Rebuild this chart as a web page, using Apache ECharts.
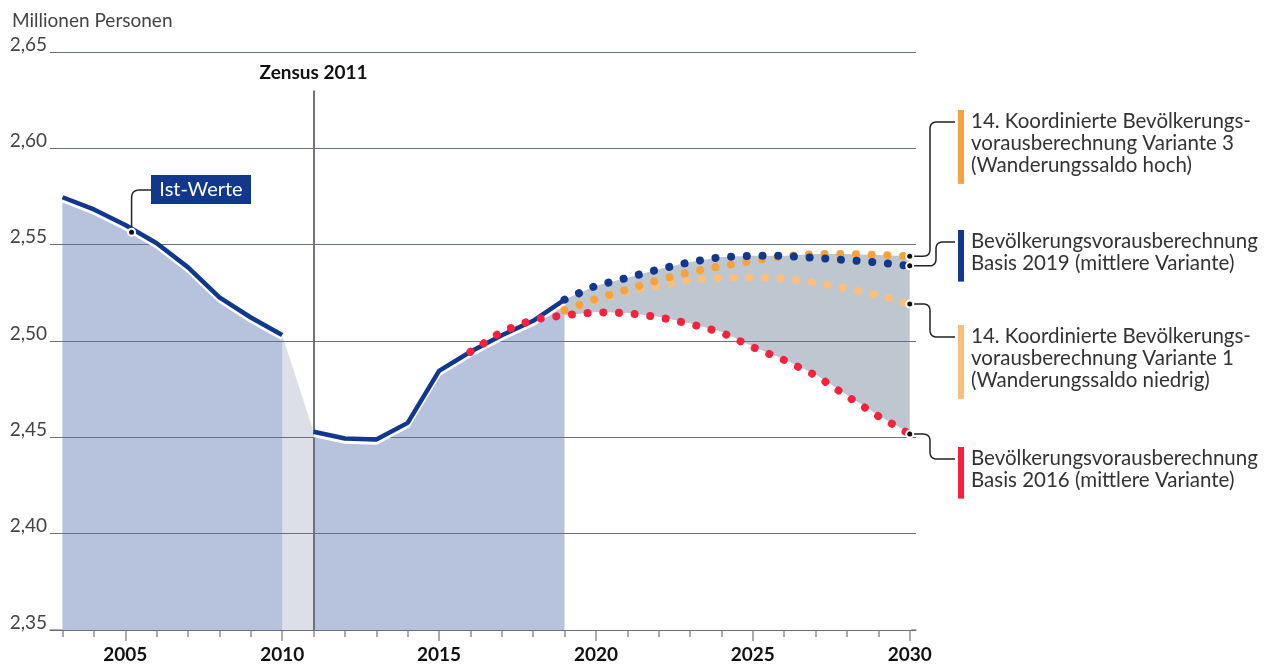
<!DOCTYPE html>
<html>
<head>
<meta charset="utf-8">
<script src="https://cdn.jsdelivr.net/npm/echarts@6/dist/echarts.min.js"></script>
<style>
html, body { margin: 0; padding: 0; background: #fff; }
#chart { width: 1282px; height: 666px; }
</style>
</head>
<body>
<div id="chart"></div>
<script>
// Schrift und Farben
var FONT = 'Lato, sans-serif';
var NAVY = '#11388c';
var ORANGE = '#f7a23b';
var LIGHT_ORANGE = '#fcbf7b';
var RED = '#f5223f';

// Ist-Werte (Mio. Personen)
var istYears = [2003, 2004, 2005, 2006, 2007, 2008, 2009, 2010, 2011, 2012, 2013, 2014, 2015, 2016, 2017, 2018, 2019];
var istValues = [2.5746, 2.5683, 2.5602, 2.5507, 2.5382, 2.5226, 2.5122, 2.5031, 2.4529, 2.4494, 2.4489, 2.4575, 2.4845, 2.4944, 2.5030, 2.5105, 2.5215];

// Vorausberechnungen
var projYears = [2019, 2020, 2021, 2022, 2023, 2024, 2025, 2026, 2027, 2028, 2029, 2030];
var basis2019 = [2.5215, 2.5287, 2.5328, 2.5372, 2.5410, 2.5436, 2.5442, 2.5442, 2.5432, 2.5420, 2.5408, 2.5390];
var variante3 = [2.5160, 2.5218, 2.5268, 2.5316, 2.5358, 2.5389, 2.5416, 2.5441, 2.5451, 2.5451, 2.5447, 2.5440];
var variante1 = [2.5160, 2.5212, 2.5258, 2.5287, 2.5318, 2.5328, 2.5330, 2.5325, 2.5302, 2.5273, 2.5237, 2.5192];
var b2016Years = [2016, 2017, 2018, 2019, 2020, 2021, 2022, 2023, 2024, 2025, 2026, 2027, 2028, 2029, 2030];
var basis2016 = [2.4944, 2.5049, 2.5111, 2.5134, 2.5149, 2.5145, 2.5124, 2.5089, 2.5045, 2.4968, 2.4901, 2.4822, 2.4714, 2.4610, 2.4517];

// Achsen
var yearTicks = [2003, 2004, 2005, 2006, 2007, 2008, 2009, 2010, 2011, 2012, 2013, 2014, 2015, 2016, 2017, 2018, 2019, 2020, 2021, 2022, 2023, 2024, 2025, 2026, 2027, 2028, 2029, 2030];
var yearLabels = [2005, 2010, 2015, 2020, 2025, 2030];

function pairs(xs, ys) {
    return xs.map(function (x, i) { return [x, ys[i]]; });
}

var istAll = pairs(istYears, istValues);
var istPart1 = istAll.filter(function (p) { return p[0] <= 2010; });
var istPart2 = istAll.filter(function (p) { return p[0] >= 2011; });

// Band zwischen Basis 2016 und der oberen Vorausberechnung
var bandLow = projYears.map(function (y) { return basis2016[b2016Years.indexOf(y)]; });
var bandHigh = projYears.map(function (y, i) { return Math.max(basis2019[i], variante3[i]); });

function dots(color) {
    return { color: color, width: 8, type: [0.01, 15.7], cap: 'round' };
}

function areaSeries(data, color, z) {
    return {
        type: 'line', data: data, symbol: 'none', z: z || 1, silent: true,
        lineStyle: { width: 0, opacity: 0 },
        areaStyle: { color: color, opacity: 1, origin: 'start' }
    };
}

var chart = echarts.init(document.getElementById('chart'));

var option = {
    animation: false,
    title: {
        text: 'Millionen Personen', left: 7, top: 6,
        textStyle: { fontFamily: FONT, fontSize: 19, fontWeight: 'normal', color: '#444' }
    },
    grid: { left: 50, right: 366, top: 52, bottom: 36 },
    xAxis: [{
        type: 'value', min: 2002.6, max: 2030.2, position: 'bottom',
        axisLine: { show: true, lineStyle: { color: '#8d919c', width: 1.5 } },
        axisTick: { show: true, customValues: yearTicks, length: 7, lineStyle: { color: '#8d919c', width: 1.5 } },
        axisLabel: { show: false },
        splitLine: { show: false }
    }, {
        type: 'value', min: 2002.6, max: 2030.2, position: 'bottom', offset: 0,
        axisLine: { show: false },
        axisTick: { show: true, customValues: yearLabels, length: 11, lineStyle: { color: '#8d919c', width: 1.5 } },
        axisLabel: {
            customValues: yearLabels, margin: 15,
            fontFamily: FONT, fontSize: 19, fontWeight: 'bold', color: '#111',
            formatter: function (v) { return String(v); }
        },
        splitLine: { show: false }
    }],
    yAxis: {
        type: 'value', min: 2.35, max: 2.65, interval: 0.05, z: 3,
        axisLine: { show: false },
        axisTick: { show: false },
        axisLabel: {
            margin: 3, verticalAlign: 'bottom', padding: [0, 0, -2, 0],
            fontFamily: FONT, fontSize: 19, color: '#444',
            formatter: function (v) { return v.toFixed(2).replace('.', ','); }
        },
        splitLine: { lineStyle: { color: '#6b7080', width: 1 } }
    },
    series: [
        // Übergang 2010-2011 (Zensus)
        Object.assign(areaSeries(istAll, '#dcdfe7'), {
            markLine: {
                silent: true, symbol: 'none', z: 4,
                lineStyle: { color: '#6e7280', width: 2, type: 'solid' },
                label: {
                    show: true, position: 'end', distance: 8, formatter: 'Zensus 2011',
                    fontFamily: FONT, fontSize: 19, fontWeight: 'bold', color: '#111'
                },
                data: [[{ coord: [2011, 2.35] }, { coord: [2011, 2.63] }]]
            }
        }),
        areaSeries(istPart1, '#b7c3dc'),
        areaSeries(istPart2, '#b7c3dc'),
        // Band der Vorausberechnungen: obere Hülle grau, darunter weiß abgedeckt
        areaSeries(pairs(projYears, bandHigh), '#bec6d0', 1),
        {
            type: 'line', data: pairs(projYears, bandLow), symbol: 'none', z: 1, silent: true,
            lineStyle: { width: 0, opacity: 0 },
            areaStyle: { color: '#ffffff', opacity: 1, origin: 'start', shadowColor: '#ffffff', shadowBlur: 0, shadowOffsetX: 1.5 }
        },
        // Ist-Werte Linie
        {
            type: 'line', data: istPart1, symbol: 'none', z: 5,
            lineStyle: { color: NAVY, width: 4.5, shadowColor: '#fff', shadowOffsetY: 3, shadowBlur: 0 }
        },
        {
            type: 'line', data: istPart2, symbol: 'none', z: 5,
            lineStyle: { color: NAVY, width: 4.5, shadowColor: '#fff', shadowOffsetY: 3, shadowBlur: 0 }
        },
        { type: 'line', data: pairs(projYears, variante1), symbol: 'none', z: 6, lineStyle: dots(LIGHT_ORANGE) },
        { type: 'line', data: pairs(projYears, variante3), symbol: 'none', z: 7, lineStyle: dots(ORANGE) },
        { type: 'line', data: pairs(projYears, basis2019), symbol: 'none', z: 8, lineStyle: dots(NAVY) },
        { type: 'line', data: pairs(b2016Years, basis2016), symbol: 'none', z: 8, lineStyle: dots(RED) }
    ]
};

chart.setOption(option);

// Beschriftungen rechts mit Führungslinien
function px(x, y) {
    return chart.convertToPixel({ xAxisIndex: 0, yAxisIndex: 0 }, [x, y]);
}

// quadratische Kurve als Punktfolge
function quad(p0, c, p1) {
    var pts = [];
    for (var i = 1; i <= 8; i++) {
        var t = i / 8, u = 1 - t;
        pts.push([u * u * p0[0] + 2 * u * t * c[0] + t * t * p1[0], u * u * p0[1] + 2 * u * t * c[1] + t * t * p1[1]]);
    }
    return pts;
}

function leader(x0, y0, tx, ty, x1, r) {
    var s = ty < y0 ? -1 : 1;
    var pts = [[x0, y0], [tx - r, y0]];
    pts = pts.concat(quad([tx - r, y0], [tx, y0], [tx, y0 + s * r]));
    pts.push([tx, ty - s * r]);
    pts = pts.concat(quad([tx, ty - s * r], [tx, ty], [tx + r, ty]));
    pts.push([x1, ty]);
    return pts;
}

var legendItems = [
    { color: ORANGE, end: variante3[variante3.length - 1], top: 110, turnX: 930,
      lines: ['14. Koordinierte Bevölkerungs-', 'vorausberechnung Variante 3', '(Wanderungssaldo hoch)'] },
    { color: NAVY, end: basis2019[basis2019.length - 1], top: 230, turnX: 936,
      lines: ['Bevölkerungsvorausberechnung', 'Basis 2019 (mittlere Variante)'] },
    { color: LIGHT_ORANGE, end: variante1[variante1.length - 1], top: 325, turnX: 930,
      lines: ['14. Koordinierte Bevölkerungs-', 'vorausberechnung Variante 1', '(Wanderungssaldo niedrig)'] },
    { color: RED, end: basis2016[basis2016.length - 1], top: 447, turnX: 930,
      lines: ['Bevölkerungsvorausberechnung', 'Basis 2016 (mittlere Variante)'] }
];

var LINE_H = 22.3;
var graphics = [];
legendItems.forEach(function (it) {
    var p = px(2030, it.end);
    var ty = it.top + 12;
    graphics.push({ type: 'polyline', z: 20, shape: { points: leader(p[0], p[1], it.turnX, ty, 955, 7) }, style: { fill: null, stroke: '#222', lineWidth: 1.5 } });
    graphics.push({ type: 'circle', z: 20, shape: { cx: p[0], cy: p[1], r: 4.5 }, style: { fill: '#fff' } });
    graphics.push({ type: 'circle', z: 21, shape: { cx: p[0], cy: p[1], r: 2.5 }, style: { fill: '#111' } });
    graphics.push({ type: 'rect', z: 20, shape: { x: 958, y: it.top, width: 6, height: it.lines.length * LINE_H + 7 }, style: { fill: it.color } });
    graphics.push({
        type: 'text', z: 20, x: 971, y: it.top,
        style: { text: it.lines.join('\n'), fontFamily: FONT, fontSize: 20.5, lineHeight: LINE_H, fill: '#333', verticalAlign: 'top' }
    });
});

// Ist-Werte Kennzeichnung
var ax = 2005.2;
var av = istValues[2] + (istValues[3] - istValues[2]) * (ax - 2005);
var ap = px(ax, av);
var dx = ap[0], dy = ap[1] + 3.5;
var istLeader = [[dx, dy], [dx, 198]].concat(quad([dx, 198], [dx, 190], [dx + 8, 190]));
istLeader.push([151, 190]);
graphics.push({ type: 'polyline', z: 20, shape: { points: istLeader }, style: { fill: null, stroke: '#222', lineWidth: 1.5 } });
graphics.push({ type: 'circle', z: 20, shape: { cx: dx, cy: dy, r: 4.5 }, style: { fill: '#fff' } });
graphics.push({ type: 'circle', z: 21, shape: { cx: dx, cy: dy, r: 2.5 }, style: { fill: '#111' } });
graphics.push({ type: 'rect', z: 20, shape: { x: 151, y: 175, width: 100, height: 29 }, style: { fill: NAVY } });
graphics.push({
    type: 'text', z: 21, x: 201, y: 189.5,
    style: { text: 'Ist-Werte', fontFamily: FONT, fontSize: 20, fill: '#fff', align: 'center', verticalAlign: 'middle' }
});

chart.setOption({ graphic: graphics });
</script>
</body>
</html>
